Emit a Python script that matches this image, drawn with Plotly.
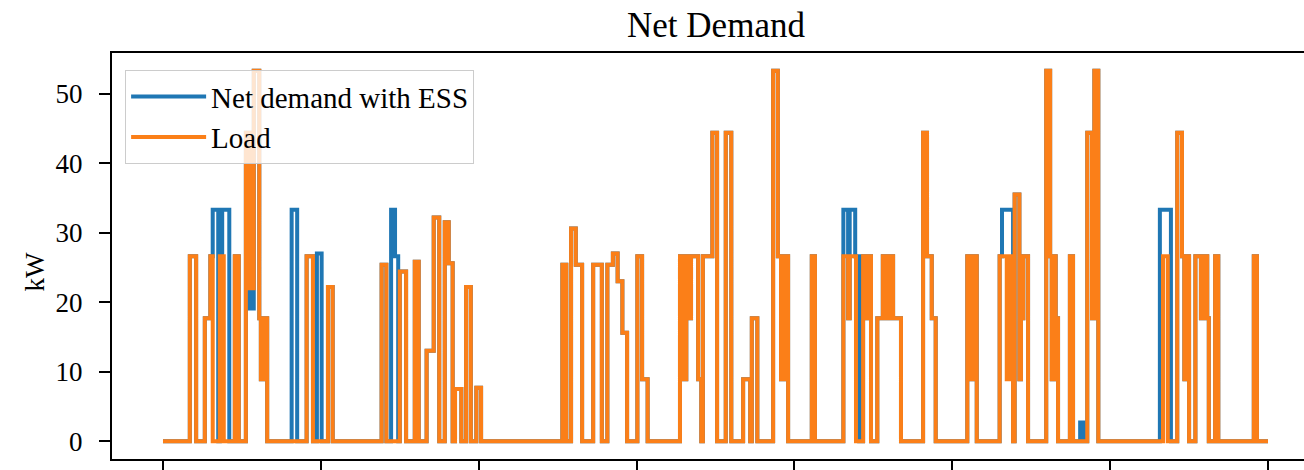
import plotly.graph_objects as go

# ---- data (time index 0..1400, value in kW; each value holds until the next time) ----
load_t = [0, 34, 42, 53, 60, 63, 72, 77, 91, 96, 105, 110, 115, 122, 124, 128, 132,
          182, 190, 209, 215, 277, 283, 300, 308, 319, 324, 334, 343, 350, 357, 362, 367,
          370, 378, 384, 390, 397, 403, 506, 511, 517, 523, 531, 545, 556, 563, 570, 576,
          582, 588, 601, 607, 614, 655, 659, 663, 666, 669, 678, 682, 684, 696, 702, 713,
          720, 735, 744, 746, 753, 773, 779, 783, 788, 792, 822, 826, 862, 868, 870, 878,
          887, 891, 893, 897, 905, 912, 917, 921, 925, 935, 963, 968, 974, 979, 1019, 1024,
          1026, 1031, 1060, 1069, 1072, 1077, 1079, 1085, 1087, 1090, 1096, 1119, 1124, 1126,
          1129, 1131, 1134, 1149, 1153, 1171, 1177, 1180, 1185, 1267, 1273, 1285, 1291, 1294,
          1296, 1300, 1308, 1315, 1318, 1323, 1325, 1333, 1337, 1382, 1386, 1400]
load_kw = [0, 26.6, 0, 17.7, 26.6, 0, 26.6, 0, 26.6, 0, 44.4, 22.0, 53.3, 17.7, 8.9, 17.7, 0,
           26.6, 0, 22.2, 0, 25.4, 0, 24.4, 0, 25.8, 0, 13.0, 32.2, 0, 31.5, 25.6, 0,
           7.5, 0, 22.2, 0, 7.7, 0, 25.4, 0, 30.6, 25.4, 0, 25.4, 0, 25.4, 27.0, 23.0,
           15.6, 0, 26.6, 8.9, 0, 26.6, 8.9, 26.6, 17.7, 26.6, 8.9, 0, 26.6, 44.4, 0, 44.4,
           0, 8.9, 0, 17.7, 0, 53.3, 26.6, 8.9, 26.6, 0, 26.6, 0, 26.6, 17.7, 26.6, 0,
           26.6, 17.7, 26.6, 0, 17.7, 26.6, 17.7, 26.6, 17.7, 0, 44.4, 26.6, 17.7, 0, 26.6, 8.9,
           26.6, 0, 26.6, 8.9, 26.6, 0, 35.5, 8.9, 17.7, 26.6, 0, 53.3, 26.6, 8.9,
           26.6, 17.7, 0, 26.6, 0, 44.4, 17.7, 53.3, 0, 26.6, 0, 44.4, 26.6, 8.9,
           26.6, 0, 26.6, 17.7, 26.6, 17.7, 0, 26.6, 0, 26.6, 0, 0]

net_t = [0, 34, 42, 53, 60, 63, 70, 72, 75, 84, 91, 96, 105, 110, 115, 122, 124, 128, 132,
         163, 170, 182, 190, 195, 201, 209, 215, 277, 283, 289, 294, 298, 300, 308, 319, 324,
         334, 343, 350, 357, 362, 367, 370, 378, 384, 390, 397, 403, 506, 511, 517, 523, 531,
         545, 556, 563, 570, 576, 582, 588, 601, 607, 614, 655, 659, 663, 666, 669, 678, 682,
         684, 696, 702, 713, 720, 735, 744, 746, 753, 773, 779, 783, 788, 792, 822, 826,
         862, 868, 870, 877, 882, 887, 891, 893, 897, 905, 912, 917, 921, 925, 935, 963, 968,
         974, 979, 1019, 1024, 1026, 1031, 1060, 1063, 1077, 1079, 1085, 1087, 1090, 1096,
         1119, 1124, 1126, 1129, 1131, 1134, 1149, 1153, 1162, 1167, 1171, 1177, 1180, 1185,
         1263, 1277, 1285, 1291, 1294, 1296, 1300, 1308, 1315, 1318, 1323, 1325, 1333, 1337,
         1382, 1386, 1400]
net_kw = [0, 26.6, 0, 17.7, 26.6, 33.3, 0, 26.6, 33.3, 0, 26.6, 0, 44.4, 19.1, 53.3, 17.7, 8.9, 17.7, 0,
          33.3, 0, 26.6, 0, 27.0, 0, 22.2, 0, 25.4, 0, 33.3, 26.6, 0, 24.4, 0, 25.8, 0,
          13.0, 32.2, 0, 31.5, 25.6, 0, 7.5, 0, 22.2, 0, 7.7, 0, 25.4, 0, 30.6, 25.4, 0,
          25.4, 0, 25.4, 27.0, 23.0, 15.6, 0, 26.6, 8.9, 0, 26.6, 8.9, 26.6, 17.7, 26.6, 8.9, 0,
          26.6, 44.4, 0, 44.4, 0, 8.9, 0, 17.7, 0, 53.3, 26.6, 8.9, 26.6, 0, 26.6, 0,
          33.3, 17.7, 33.3, 26.6, 0, 26.6, 17.7, 26.6, 0, 17.7, 26.6, 17.7, 26.6, 17.7, 0, 44.4, 26.6,
          17.7, 0, 26.6, 8.9, 26.6, 0, 26.6, 33.3, 0, 35.5, 8.9, 17.7, 26.6, 0,
          53.3, 26.6, 8.9, 26.6, 17.7, 0, 26.6, 0, 2.7, 0, 44.4, 17.7, 53.3, 0,
          33.3, 0, 44.4, 26.6, 8.9, 26.6, 0, 26.6, 17.7, 26.6, 17.7, 0, 26.6, 0,
          26.6, 0, 0]

x_ticks = [0, 200, 400, 600, 800, 1000, 1200, 1400]
y_ticks = [0, 10, 20, 30, 40, 50]

FONT = "Liberation Serif"

fig = go.Figure()
fig.add_trace(go.Scatter(x=net_t, y=net_kw, mode="lines", name="Net demand with ESS",
                         line=dict(color="#1f77b4", width=4, shape="hv"),
                         legendgroup="a"))
fig.add_trace(go.Scatter(x=load_t, y=load_kw, mode="lines", name="Load",
                         line=dict(color="#fb7f18", width=4, shape="hv"),
                         legendgroup="b"))

fig.update_layout(
    width=1304, height=470,
    margin=dict(l=112, r=0, t=53, b=8),
    paper_bgcolor="white", plot_bgcolor="white",
    font=dict(family=FONT, color="black", size=27),
    title=dict(text="Net Demand", font=dict(family=FONT, size=35, color="black"),
               xref="container", x=716 / 1304, xanchor="center",
               yref="container", y=1 - 25 / 470, yanchor="middle"),
    showlegend=True,
    legend=dict(x=0.011, y=0.958, xanchor="left", yanchor="top",
                bgcolor="rgba(255,255,255,0.8)", bordercolor="#cccccc", borderwidth=1,
                font=dict(family=FONT, size=29, color="black"),
                itemwidth=75, tracegroupgap=0),
    xaxis=dict(range=[-64.6, 1445.6], tickvals=x_ticks, showticklabels=False,
               ticks="outside", ticklen=11, tickwidth=2, tickcolor="black",
               showline=True, linecolor="black", linewidth=2, mirror=True,
               showgrid=False, zeroline=False),
    yaxis=dict(range=[-2.57, 55.86], tickvals=y_ticks,
               ticks="outside", ticklen=11, tickwidth=2, tickcolor="black",
               ticklabelstandoff=11,
               tickfont=dict(family=FONT, size=27, color="black"),
               showline=True, linecolor="black", linewidth=2, mirror=False,
               showgrid=False, zeroline=False),
    annotations=[dict(text="kW", textangle=-90, xref="paper", yref="paper",
                      x=(35 - 112) / 1192, y=(462 - 273) / 409,
                      xanchor="center", yanchor="middle", showarrow=False,
                      font=dict(family=FONT, size=27, color="black"))],
)

fig.write_html("out.html",
               config={"displayModeBar": False},
               post_script="document.body.style.margin='0';document.body.style.overflow='hidden';")
